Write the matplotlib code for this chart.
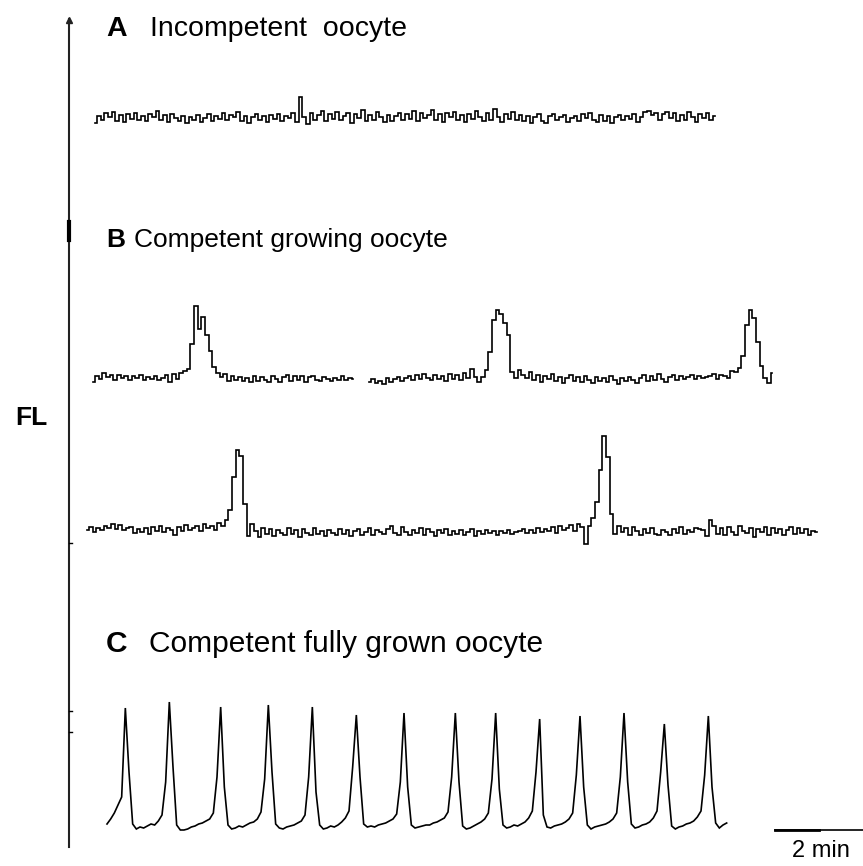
import matplotlib
matplotlib.use("Agg")
import matplotlib.pyplot as plt
import numpy as np

# --- Recording settings ---
dt = 5 / 60.0          # sampling interval (min)
px_per_min = 44.0      # horizontal scale of the page

# --- Fluorescence traces (FL, a.u. above resting level) ---
# A: incompetent oocyte, no oscillations
fl_a = [-4, 3, -1, 6, 2, 7, -2, 4, -3, 5, 0, 6, -1, 3, -2, 5, 2, 8, -1, 4,
        -3, 5, 1, -2, 3, -4, 2, -1, 4, -3, 1, 5, -2, 3, 0, 6, -1, 4, 2, 7,
        -2, 3, -4, 2, 5, -1, 3, -3, 4, 0, 5, -2, 3, 1, 6, -3, 22, 2, -5, 6,
        -1, 4, 8, -2, 5, 0, 7, -1, 3, 6, -4, 5, 1, 9, -2, 4, -1, 7, 2, -3,
        4, -2, 3, 6, -1, 5, 0, 8, -2, 6, 1, 4, 9, -1, 5, -3, 6, 2, 7, -1,
        4, -3, 5, 0, 8, 2, -2, 6, -1, 10, 2, -3, 5, 0, 7, -1, 4, -2, 3, -4,
        2, 5, -2, -4, 3, 5, -1, 2, 4, -3, 1, 3, -2, 5, 1, 6, -1, -3, 4, -2,
        3, -4, 2, 4, -1, 3, 0, 5, -3, 2, 7, 8, 4, 6, -1, 5, 7, 1, 6, -2,
        4, -1, 7, 2, -3, 5, 1, 6, -1, 3]

# B: competent growing oocyte, first row in two pieces
fl_b1a = [-3, 3, 0, 6, 2, 4, -1, 4, 1, 3, -1, 3, 1, 4, -1, 2, 0, 3, -1, 1,
          4, -3, 5, 0, 6, 8, 10, 35, 73, 50, 62, 44, 28, 12, 6, 2, 5, -2, 3, -1,
          2, -2, 1, -3, 3, -2, 2, -1, -3, 3, 0, -3, 2, 4, -2, 3, -1, 3, -3, 2,
          3, -1, -2, 2, 0, -2, 1, -1, 3, -1, 1, 0]

fl_b1b = [-2, 1, -3, -1, -4, 2, -2, 1, 3, -1, 2, 4, 0, 5, 1, 6, 2, 0, 5, 1,
          4, -1, 6, 1, 5, 0, 7, 2, 11, 3, -2, 3, 10, 28, 60,
          70, 66, 57, 45, 8, 2, 10, 5, 2, 8,
          0, 5, -2, 4, 1, 6, -1, 3, -3, 2, 5, -1, 3, -2, 4, 0, -3, 3, -1, 2,
          -2, 4, 0, -4, 2, -1, 3, 0, -3, 2, 5, -1, 4, 0, 6, 1, -2, 3, 5, 0,
          4, 1, 3, 5, 1, 4, 2, 3, 4, 6, 1, 5, 4, 2, 9,
          8, 12, 24, 55, 70, 62, 38, 14, 2, -3, 7]

# B: second row
fl_b2 = [2, 5, 0, 4, 2, 6, 4, 8, 3, 7, 2, 4, 5, -1, 3, 0, 4, -2, 5, 1,
         6, 0, 4, 2, -3, 5, 1, 7, 2, 4, 6, 1, 8, 4, 6, 2, 9, 6, 12, 22,
         55, 82, 76, 28, -4, 8, 1, -5, 4, -2,
         3, -4, 2, -1, -3, 4, -2, 2, -5, 3, -1, -3, 4, -2, 1, -4, 2, -1, -3, 3,
         -2, 2, -4, 1, 3, -3, 0, 4, -3, 2, 0, -2, 3, 6, -1, -3, 5, 0, -3, 2,
         -1, 4, -3, 3, 0, -4, 2, -1, 3, -3, 1, -2, 2, -3, 0, 3, -4, 1, -2, 2,
         -1, 1, -3, 1, -1, 2, -2, 0, 1, 3, -1, 2, -1, 4, 0, 3, 1, 5, -1, 6,
         2, 4, 7, 1, 8, 5, -12, 6, 14, 30,
         62, 96, 75, 18, -2, 6, 0, 4, -3, 5,
         1, -3, 3, -1, 4, -2, -3, 2, 0, -3, 3, -1, 5, -2, 2, 0, 4, 3, 2, -4,
         12, 6, -2, 4, -3, 5, 0, -3, 6, 1, -1, 4, -5, 3, 0, 5, -3, 4, -1, 3,
         -3, 2, 5, -2, 4, -1, 3, -3, 1, 0]

# C: competent fully grown oocyte, regular Ca2+ spikes
fl_c = [3, 8, 14, 22, 30, 119,
        55, 3, -2, 0, -1, 1, 3, 2, 6, 12, 45, 125,
        60, 2, -3, -3, -2, 0, 1, 3, 4, 6, 8, 14, 50, 120,
        40, 2, -2, -1, 1, 0, 2, 4, 5, 8, 15, 48, 122,
        55, 3, -1, -2, 0, 1, 2, 4, 6, 12, 50, 120,
        35, 2, -2, -1, 1, 0, 2, 5, 9, 16, 60, 112,
        50, 3, 0, 1, 0, 2, 3, 4, 6, 8, 13, 45, 114,
        40, 2, -1, 0, 1, 2, 2, 4, 5, 7, 9, 15, 50, 114,
        45, 1, -2, -1, 1, 3, 5, 8, 14, 48, 114,
        38, 2, -1, 0, 2, 1, 3, 5, 9, 16, 55, 108,
        12, 0, -1, 1, 2, 3, 5, 8, 14, 52, 111,
        40, 2, -2, 0, 1, 2, 3, 5, 8, 14, 50, 114,
        45, 3, -1, 0, 2, 3, 5, 9, 16, 55, 103,
        42, 1, -2, 0, 1, 3, 4, 6, 10, 16, 52, 111,
        40, 4, -1, 2, 4]

panel_letters = ["A", "B", "C"]
panel_titles = ["Incompetent  oocyte", "Competent growing oocyte",
                "Competent fully grown oocyte"]
scale_min = 2


def px_x(p):
    # page pixel column -> minutes from the FL axis
    return (p - 69) / px_per_min


def px_y(p):
    # page pixel row -> vertical data coordinate
    return 866 - p


def trace(ax, values, start_px, base_px, steps=True):
    v = np.asarray(values, dtype=float)
    t = px_x(start_px) + np.arange(len(v)) * dt
    ax.plot(t, px_y(base_px) + v, color="black", lw=1.2,
            drawstyle="steps-mid" if steps else "default",
            solid_joinstyle="miter")


plt.rcParams["font.family"] = ["Liberation Sans", "DejaVu Sans"]

fig = plt.figure(figsize=(8.63, 8.66), dpi=100)
ax = fig.add_axes([0, 0, 1, 1])
ax.set_xlim(px_x(0), px_x(863))
ax.set_ylim(0, 866)
ax.axis("off")

# FL axis
ax.plot([0, 0], [px_y(847), px_y(19)], color="#222222", lw=1.5)
ax.plot([0], [px_y(20)], marker="^", ms=4, color="#222222")
ax.plot([0, 0], [px_y(240), px_y(222)], color="black", lw=3)
for p in [543, 711, 732]:
    ax.plot([0, 0.06], [px_y(p), px_y(p)], color="black", lw=1)
ax.text(px_x(15), px_y(418), "FL", fontsize=19, fontweight="bold",
        ha="left", va="center")

# traces
trace(ax, fl_a, 95, 119)
trace(ax, fl_b1a, 93, 379)
trace(ax, fl_b1b, 369, 380)
trace(ax, fl_b2, 87, 532)
trace(ax, fl_c, 107, 827, steps=False)

# panel titles
rows = [29, 240, 644]
sizes = [20.5, 19, 21.5]
title_x = [150, 134, 149]
for letter, title, row, fs, tx in zip(panel_letters, panel_titles, rows,
                                      sizes, title_x):
    ax.text(px_x(106), px_y(row), letter, fontsize=fs, fontweight="bold",
            ha="left", va="center")
    ax.text(px_x(tx), px_y(row), title, fontsize=fs,
            ha="left", va="center")

# time scale bar
x0 = px_x(775)
ax.plot([x0, x0 + scale_min], [px_y(830), px_y(830)], color="black",
        lw=1.2, clip_on=False)
ax.plot([x0, x0 + 1.0], [px_y(830), px_y(830)], color="black", lw=2)
ax.text(px_x(821), px_y(851), f"{scale_min} min", fontsize=17,
        ha="center", va="center")

fig.savefig("out.png", dpi=100)
